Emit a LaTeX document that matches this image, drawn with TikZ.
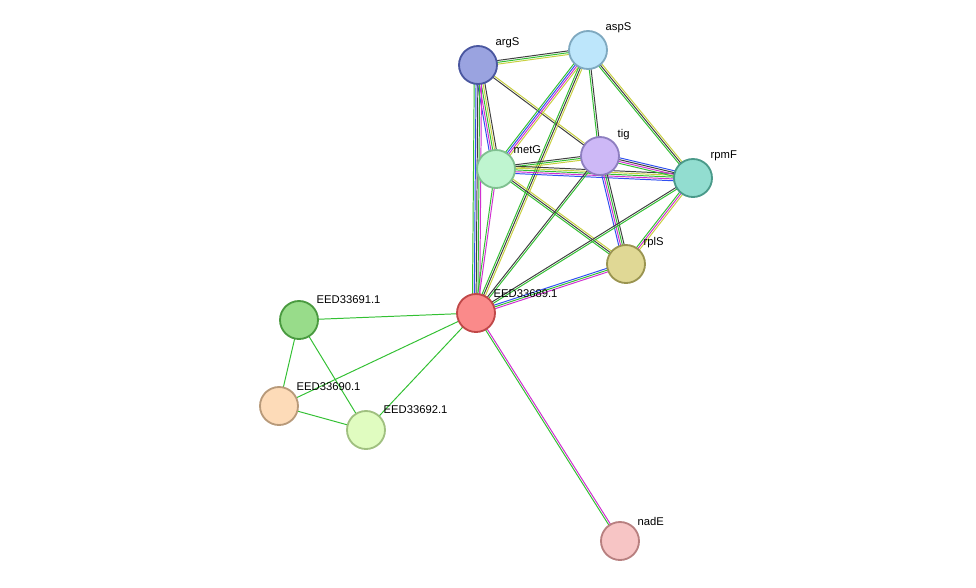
\documentclass[tikz,border=0pt]{standalone}
\usepackage{fontspec}
\setmainfont{Liberation Sans}
\usetikzlibrary{calc}

\definecolor{cgreen}{HTML}{33C033}
\definecolor{cblue}{HTML}{3050F0}
\definecolor{cmag}{HTML}{D030D0}
\definecolor{cyel}{HTML}{C8D040}
\definecolor{cdark}{HTML}{404040}

\tikzset{
  prot/.style={circle, minimum size=0.95cm, line width=1.3pt, inner sep=0pt},
  plabel/.style={anchor=south west, inner sep=1pt, font=\fontsize{8}{9}\selectfont},
  lnk/.style={line width=0.7pt}
}

% multi-coloured link: {from}{to}{number of lines}{colours}
\newcommand{\stringlink}[4]{%
  \foreach \c [count=\i] in {#4} {
    \pgfmathsetmacro{\off}{(\i-(#3+1)/2)*1.3}
    \draw[lnk, \c] ($(#1)!\off pt!90:(#2)$) -- ($(#2)!\off pt!-90:(#1)$);
  }
}

\begin{document}
\begin{tikzpicture}[x=1cm/40, y=-1cm/40]
\useasboundingbox (0,0) rectangle (976,587);

% proteins
\coordinate (argS) at (478,65);
\coordinate (aspS) at (588,50);
\coordinate (tig) at (600,156);
\coordinate (metG) at (496,169);
\coordinate (rpmF) at (693,178);
\coordinate (rplS) at (626,264);
\coordinate (e89) at (476,313);
\coordinate (e91) at (299,320);
\coordinate (e90) at (279,406);
\coordinate (e92) at (366,430);
\coordinate (nadE) at (620,541);

% links
\stringlink{argS}{aspS}{3}{cyel,cgreen,cdark}
\stringlink{argS}{tig}{2}{cdark,cyel}
\stringlink{argS}{metG}{5}{cblue,cmag,cgreen,cyel,cdark}
\stringlink{argS}{e89}{5}{cgreen,cblue,cdark,cgreen,cmag}
\stringlink{aspS}{metG}{4}{cgreen,cblue,cmag,cyel}
\stringlink{aspS}{tig}{2}{cgreen,cdark}
\stringlink{aspS}{rpmF}{3}{cgreen,cdark,cyel}
\stringlink{aspS}{e89}{3}{cgreen,cdark,cyel}
\stringlink{metG}{tig}{3}{cyel,cgreen,cdark}
\stringlink{metG}{rpmF}{5}{cblue,cmag,cgreen,cyel,cdark}
\stringlink{metG}{rplS}{3}{cgreen,cdark,cyel}
\stringlink{metG}{e89}{2}{cgreen,cmag}
\stringlink{tig}{rpmF}{4}{cgreen,cmag,cdark,cblue}
\stringlink{tig}{rplS}{4}{cblue,cmag,cgreen,cdark}
\stringlink{tig}{e89}{2}{cdark,cgreen}
\stringlink{rpmF}{rplS}{3}{cgreen,cmag,cyel}
\stringlink{rpmF}{e89}{2}{cdark,cgreen}
\stringlink{rplS}{e89}{3}{cblue,cgreen,cmag}
\stringlink{e89}{nadE}{2}{cgreen,cmag}
\draw[lnk, cgreen] (e89) -- (e91);
\draw[lnk, cgreen] (e89) -- (e90);
\draw[lnk, cgreen] (e89) -- (e92);
\draw[lnk, cgreen] (e91) -- (e90);
\draw[lnk, cgreen] (e91) -- (e92);
\draw[lnk, cgreen] (e90) -- (e92);

% nodes
\node[prot, fill={rgb,255:red,154;green,163;blue,224}, draw={rgb,255:red,74;green,87;blue,160}] (nargS) at (argS) {};
\node[prot, fill={rgb,255:red,189;green,230;blue,251}, draw={rgb,255:red,127;green,169;blue,192}] (naspS) at (aspS) {};
\node[prot, fill={rgb,255:red,205;green,184;blue,246}, draw={rgb,255:red,142;green,127;blue,192}] (ntig) at (tig) {};
\node[prot, fill={rgb,255:red,191;green,245;blue,208}, draw={rgb,255:red,127;green,192;blue,144}] (nmetG) at (metG) {};
\node[prot, fill={rgb,255:red,146;green,221;blue,208}, draw={rgb,255:red,74;green,154;blue,138}] (nrpmF) at (rpmF) {};
\node[prot, fill={rgb,255:red,224;green,216;blue,149}, draw={rgb,255:red,154;green,148;blue,80}] (nrplS) at (rplS) {};
\node[prot, fill={rgb,255:red,250;green,138;blue,138}, draw={rgb,255:red,192;green,72;blue,72}] (ne89) at (e89) {};
\node[prot, fill={rgb,255:red,152;green,220;blue,138}, draw={rgb,255:red,74;green,154;blue,64}] (ne91) at (e91) {};
\node[prot, fill={rgb,255:red,253;green,219;blue,184}, draw={rgb,255:red,184;green,154;blue,122}] (ne90) at (e90) {};
\node[prot, fill={rgb,255:red,224;green,252;blue,192}, draw={rgb,255:red,160;green,192;blue,128}] (ne92) at (e92) {};
\node[prot, fill={rgb,255:red,247;green,197;blue,197}, draw={rgb,255:red,184;green,128;blue,128}] (nnadE) at (nadE) {};

% labels
\node[plabel] at (494,50) {argS};
\node[plabel] at (604,35) {aspS};
\node[plabel] at (616,142) {tig};
\node[plabel] at (512,155) {metG};
\node[plabel] at (709,163) {rpmF};
\node[plabel] at (642,250) {rplS};
\node[plabel] at (492,299) {EED33689.1};
\node[plabel] at (315,305) {EED33691.1};
\node[plabel] at (295,392) {EED33690.1};
\node[plabel] at (382,415) {EED33692.1};
\node[plabel] at (636,527) {nadE};
\end{tikzpicture}
\end{document}
